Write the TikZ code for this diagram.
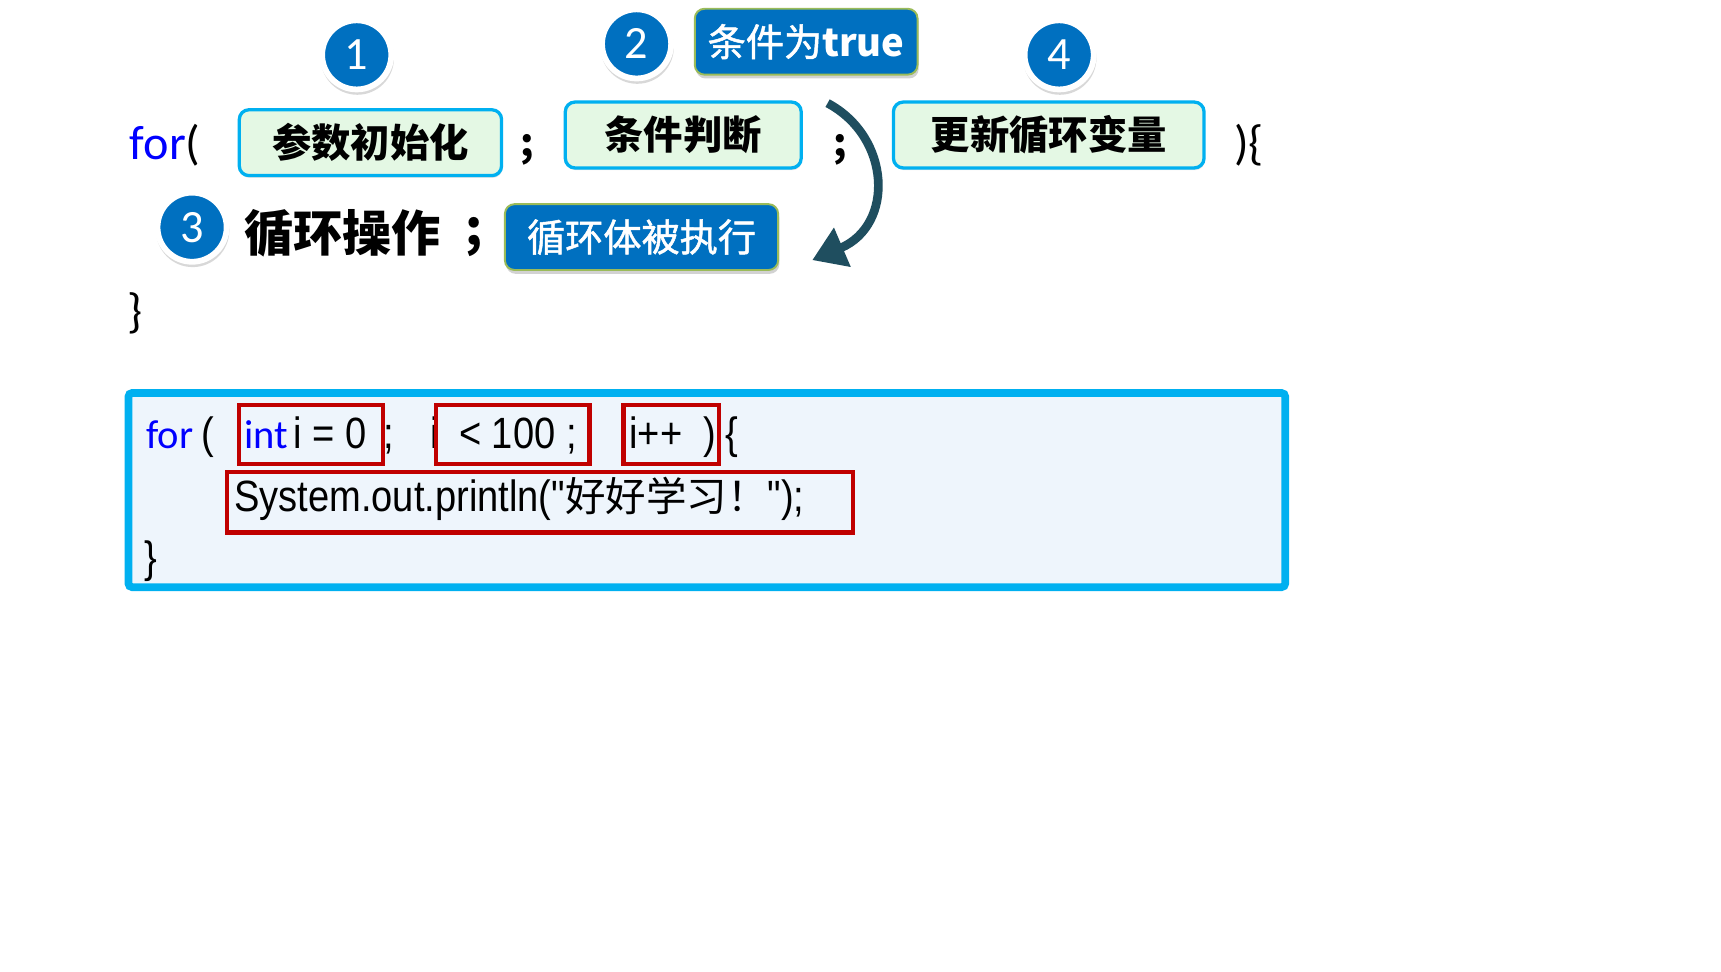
\documentclass[tikz,border=0pt]{standalone}
\usepackage{fontspec}
\usetikzlibrary{arrows.meta,shadows}
\setmainfont{Carlito}
\newfontfamily\cjk{Noto Sans CJK SC}
\newfontfamily\cjkmed[FakeBold=1.3]{Noto Sans CJK SC}
\newfontfamily\codefont[FakeStretch=0.87]{Liberation Sans}
\newfontfamily\numfont{Carlito}
\definecolor{cyanb}{HTML}{00B0F0}
\definecolor{lgreen}{HTML}{E4F8E4}
\definecolor{bluef}{HTML}{0070C0}
\definecolor{oliveb}{HTML}{9BBB59}
\definecolor{arrowc}{HTML}{1F4E5F}
\definecolor{codebg}{HTML}{EEF5FC}
\definecolor{redb}{HTML}{C00000}
\definecolor{kwblue}{HTML}{0000FF}
\begin{document}
\begin{tikzpicture}[x=0.02cm,y=-0.02cm,
  greenbox/.style={draw=cyanb, line width=1.7pt, fill=lgreen, rounded corners=5pt,
    minimum height=1.2cm, inner sep=0pt, font=\cjk\bfseries\fontsize{20.4}{24}\selectfont,
    drop shadow={opacity=0.2, shadow xshift=0.4pt, shadow yshift=-1.2pt}},
  bluebox/.style={draw=oliveb, line width=1pt, fill=bluef, rounded corners=5pt,
    minimum height=1.2cm, inner sep=0pt, text=white, font=\cjkmed\fontsize{19.8}{24}\selectfont,
    drop shadow={opacity=0.35, shadow xshift=0.6pt, shadow yshift=-2pt}},
  numcirc/.style={circle, draw=white, line width=3pt, fill=bluef, minimum size=1.26cm,
    inner sep=0pt, text=white, font=\numfont\fontsize{24}{26}\selectfont,
    drop shadow={opacity=0.3, shadow scale=1.06, shadow xshift=0.3pt, shadow yshift=-1.6pt}},
  txt/.style={anchor=base west, inner sep=0pt},
  redframe/.style={draw=redb, line width=2.3pt},
  codetxt/.style={anchor=base west, inner sep=0pt, font=\codefont\fontsize{22.7}{26}\selectfont},
  kwtxt/.style={anchor=base west, inner sep=0pt, text=kwblue, font=\numfont\fontsize{21}{26}\selectfont}
]
\useasboundingbox (0,0) rectangle (1568,884.7);
\fill[white] (0,0) rectangle (1568,884.7);

% top line
\node[txt, font=\numfont\fontsize{25}{30}\selectfont] (for1) at (118,145) {\textcolor{kwblue}{for}(};
\node[greenbox, minimum width=4.78cm] (b1) at (337.5,130) {参数初始化};
\node[txt, font=\cjk\bfseries\fontsize{20}{24}\selectfont] (semi1) at (474,143) {;};
\node[greenbox, minimum width=4.3cm] (b2) at (622.5,123) {条件判断};
\node[txt, font=\cjk\bfseries\fontsize{20}{24}\selectfont] (semi2) at (759,143) {;};
\node[greenbox, minimum width=5.66cm] (b3) at (955.5,123) {更新循环变量};
\node[txt, font=\numfont\fontsize{25}{30}\selectfont] (close1) at (1124,145) {)\{};

\node[numcirc] (n1) at (325,50) {1};
\node[numcirc] (n2) at (580,40) {2};
\node[numcirc] (n4) at (965,50) {4};
\node[bluebox, minimum width=4.06cm] (t1) at (734.5,38) {条件为{\cjk\bfseries true}};

% second line
\node[numcirc] (n3) at (175,207) {3};
\node[txt, font=\cjk\bfseries\fontsize{25.5}{30}\selectfont] (op) at (222,229) {循环操作};
\node[txt, font=\cjk\bfseries\fontsize{25.5}{30}\selectfont] (opsemi) at (424,224) {;};
\node[bluebox, minimum width=4.98cm] (t2) at (584.5,216) {循环体被执行};
\node[txt, font=\numfont\fontsize{25}{30}\selectfont] (close2) at (116,298) {\}};

% curved arrow
\coordinate (a0) at (754,94);
\coordinate (a1) at (740,237);
\draw[arrowc, line width=4.5pt, -{Triangle[length=17pt, width=21pt]}]
  (a0) .. controls (812,125) and (815,205) .. (a1);

% code box
\draw[cyanb, line width=4pt, fill=codebg, rounded corners=2pt] (117,358) rectangle (1171,535);
\node[kwtxt] (cf) at (133,409) {for};
\node[codetxt] (cp) at (183,409) {(};
\node[kwtxt] (cint) at (222,409) {int};
\node[codetxt] (ci) at (267,409) {i = 0};
\node[codetxt] (cs1) at (349,409) {;};
\node[codetxt] (ci2) at (392,409) {i};
\node[codetxt] (clt) at (418,409) {< 100 ;};
\node[codetxt] (cinc) at (573,409) {i++};
\node[codetxt] (crp) at (641,409) {)};
\node[codetxt] (clb) at (661,409) {\{};
\node[codetxt] (cprint) at (213,466) {System.out.println("{\cjk\fontsize{21}{26}\selectfont 好好学习！}");};
\node[codetxt] (crb) at (131,522) {\}};

\draw[redframe] (218,369) rectangle (349,423);
\draw[redframe] (397,369) rectangle (537,423);
\draw[redframe] (568,369) rectangle (655,423);
\draw[redframe] (207,430) rectangle (777,485);
\end{tikzpicture}
\end{document}
